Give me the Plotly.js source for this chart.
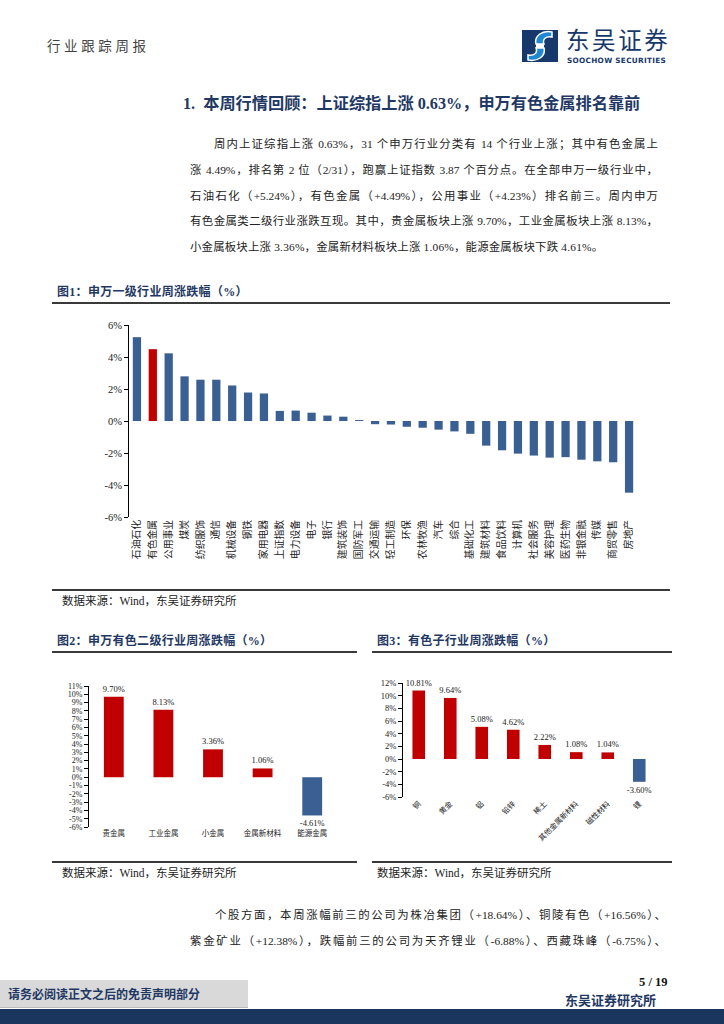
<!DOCTYPE html>
<html><head><meta charset="utf-8">
<script src="https://cdn.plot.ly/plotly-3.0.1.min.js"></script>
<style>
html,body{margin:0;padding:0;background:#fff;}
body{width:724px;height:1024px;position:relative;overflow:hidden;font-family:"Liberation Serif","Noto Sans CJK SC",serif;color:#222;}
.abs{position:absolute;white-space:nowrap;}
.jl{position:absolute;text-align:justify;text-align-last:justify;font-size:11.4px;line-height:16px;color:#222;}
.ft{position:absolute;font-weight:700;color:#1F3864;font-size:12px;line-height:16px;white-space:nowrap;font-family:"Liberation Serif","Noto Sans CJK SC";letter-spacing:0.3px;}
.hl{position:absolute;height:2px;background:#3a3a3a;}
.src{position:absolute;font-size:11.5px;line-height:16px;color:#222;white-space:nowrap;}
</style></head>
<body>
<div class="abs" style="left:47px;top:38px;font-size:13.5px;line-height:18px;letter-spacing:3.6px;color:#444;">行业跟踪周报</div>
<svg class="abs" style="left:522px;top:30px;" width="36" height="32" viewBox="0 0 36 32">
<rect x="0" y="0" width="36" height="32" fill="#16386B"/>
<path d="M30 2 C20 0 12 6 14 14 L22 14 C20 9 24 6 30 7 Z" fill="#1E88D2"/>
<path d="M6 30 C16 32 24 26 22 18 L14 18 C16 23 12 26 6 25 Z" fill="#1E88D2"/>
<path d="M14 14 L22 14 L22 18 L14 18 Z" fill="#ffffff"/>
<path d="M30 7 C24 6 20 9 22 14 L14 14 C12 6 20 0 30 2 Z" fill="none" stroke="#fff" stroke-width="1.5"/>
<path d="M6 25 C12 26 16 23 14 18 L22 18 C24 26 16 32 6 30 Z" fill="none" stroke="#fff" stroke-width="1.5"/>
</svg>
<div class="abs" style="left:566px;top:26px;font-size:23.5px;line-height:26px;color:#16386B;font-family:'Noto Sans CJK SC';letter-spacing:2.6px;">东吴证券</div>
<div class="abs" style="left:567px;top:57px;font-size:7.3px;line-height:8px;color:#16386B;font-family:'DejaVu Sans';font-weight:700;letter-spacing:0.3px;">SOOCHOW SECURITIES</div>

<div class="abs" style="left:183px;top:93px;font-size:16.2px;line-height:22px;font-weight:700;color:#1F3864;font-family:'Liberation Serif','Noto Sans CJK SC';">1.&nbsp;&nbsp;本周行情回顾：上证综指上涨 0.63%，申万有色金属排名靠前</div>

<div class="jl" style="left:214px;top:136px;width:444px;">周内上证综指上涨 0.63%，31 个申万行业分类有 14 个行业上涨；其中有色金属上</div>
<div class="jl" style="left:190px;top:162px;width:468px;">涨 4.49%，排名第 2 位（2/31），跑赢上证指数 3.87 个百分点。在全部申万一级行业中，</div>
<div class="jl" style="left:190px;top:188px;width:468px;">石油石化（+5.24%），有色金属（+4.49%），公用事业（+4.23%）排名前三。周内申万</div>
<div class="jl" style="left:190px;top:213px;width:468px;">有色金属类二级行业涨跌互现。其中，贵金属板块上涨 9.70%，工业金属板块上涨 8.13%，</div>
<div class="abs" style="left:190px;top:239px;font-size:11.4px;line-height:16px;letter-spacing:0.2px;">小金属板块上涨 3.36%，金属新材料板块上涨 1.06%，能源金属板块下跌 4.61%。</div>

<div class="ft" style="left:57px;top:284px;">图1：申万一级行业周涨跌幅（%）</div>
<div class="hl" style="left:52px;top:302px;width:618px;"></div>
<div id="c1" class="abs" style="left:0;top:300px;width:724px;height:290px;"></div>
<div class="hl" style="left:52px;top:589px;width:618px;"></div>
<div class="src" style="left:62px;top:593px;">数据来源：Wind，东吴证券研究所</div>

<div class="ft" style="left:57px;top:633px;">图2：申万有色二级行业周涨跌幅（%）</div>
<div class="hl" style="left:52px;top:651px;width:305px;"></div>
<div id="c2" class="abs" style="left:0;top:660px;width:370px;height:200px;"></div>
<div class="hl" style="left:52px;top:861px;width:305px;"></div>
<div class="src" style="left:62px;top:865px;">数据来源：Wind，东吴证券研究所</div>

<div class="ft" style="left:377px;top:633px;">图3：有色子行业周涨跌幅（%）</div>
<div class="hl" style="left:372px;top:651px;width:300px;"></div>
<div id="c3" class="abs" style="left:370px;top:660px;width:354px;height:200px;"></div>
<div class="hl" style="left:372px;top:861px;width:300px;"></div>
<div class="src" style="left:377px;top:865px;">数据来源：Wind，东吴证券研究所</div>

<div class="jl" style="left:215px;top:907px;width:451px;">个股方面，本周涨幅前三的公司为株冶集团（+18.64%）、铜陵有色（+16.56%）、</div>
<div class="jl" style="left:190px;top:933px;width:476px;">紫金矿业（+12.38%），跌幅前三的公司为天齐锂业（-6.88%）、西藏珠峰（-6.75%）、</div>

<div class="abs" style="left:639px;top:975px;font-size:12.5px;line-height:14px;font-weight:700;color:#111;">5 / 19</div>
<div style="position:absolute;left:0;top:1009px;width:724px;height:15px;background:#1B365E;"></div>
<div style="position:absolute;left:0;top:980px;width:248px;height:27px;background:#D9D9D9;border-bottom:1px solid #bbb;"></div>
<div class="abs" style="left:8px;top:986px;font-size:12px;line-height:16px;font-weight:700;color:#1F3864;font-family:'Noto Sans CJK SC';">请务必阅读正文之后的免责声明部分</div>
<div class="abs" style="left:565px;top:992px;font-size:13px;line-height:15px;font-weight:700;color:#1F3864;font-family:'Noto Sans CJK SC';">东吴证券研究所</div>

<script>
// ---- Figure 1 data ----
const cat1 = ["石油石化","有色金属","公用事业","煤炭","纺织服饰","通信","机械设备","钢铁","家用电器","上证指数","电力设备","电子","银行","建筑装饰","国防军工","交通运输","轻工制造","环保","农林牧渔","汽车","综合","基础化工","建筑材料","食品饮料","计算机","社会服务","美容护理","医药生物","非银金融","传媒","商贸零售","房地产"];
const val1 = [5.24,4.49,4.23,2.79,2.58,2.58,2.22,1.78,1.72,0.63,0.65,0.52,0.34,0.27,0.06,-0.2,-0.22,-0.36,-0.42,-0.54,-0.65,-0.8,-1.54,-1.83,-2.04,-2.16,-2.29,-2.26,-2.42,-2.52,-2.58,-4.48];
const yTicks1 = [-6,-4,-2,0,2,4,6];
// ---- Figure 2 data ----
const cat2 = ["贵金属","工业金属","小金属","金属新材料","能源金属"];
const val2 = [9.70,8.13,3.36,1.06,-4.61];
const yTicks2 = [-6,-5,-4,-3,-2,-1,0,1,2,3,4,5,6,7,8,9,10,11];
// ---- Figure 3 data ----
const cat3 = ["铜","黄金","铝","铅锌","稀土","其他金属新材料","磁性材料","锂"];
const val3 = [10.81,9.64,5.08,4.62,2.22,1.08,1.04,-3.60];
const yTicks3 = [-6,-4,-2,0,2,4,6,8,10,12];

const RED = "#C00000", BLUE = "#3A5F92";
const FONT = "Liberation Serif, Noto Sans CJK SC, serif";

function draw(id, cats, vals, colors, yTicks, o){
  const ymin = yTicks[0], ymax = yTicks[yTicks.length-1];
  const n = cats.length;
  const bounds = [];
  for(let i=0;i<=n;i++) bounds.push(i-0.5);
  const trace = {
    type:"bar", x:cats, y:vals, marker:{color:colors, line:{width:0}},
    hoverinfo:"skip", cliponaxis:false, constraintext:"none"
  };
  if(o.labels){
    trace.text = vals.map(v => v.toFixed(2)+"%");
    trace.textposition = "outside";
    trace.textfont = {family:FONT, size:o.labelSize, color:"#222"};
  }
  const layout = {
    width:o.w, height:o.h, margin:o.m, paper_bgcolor:"rgba(0,0,0,0)", plot_bgcolor:"rgba(0,0,0,0)",
    showlegend:false, bargap:o.gap,
    font:{family:FONT, color:"#222"},
    xaxis:{type:"category", showline:false, ticks:"", showgrid:false, zeroline:false,
      tickangle:o.tickangle, tickfont:{family:FONT, size:o.catSize, color:"#222"}, automargin:false},
    xaxis2:{overlaying:"x", anchor:"free", position:(0-ymin)/(ymax-ymin), range:[-0.5,n-0.5],
      showline:true, linecolor:"#000", linewidth:1, ticks:"outside", ticklen:3, tickcolor:"#000",
      tickmode:"array", tickvals:bounds, showticklabels:false, showgrid:false, zeroline:false, fixedrange:true},
    yaxis:{range:[ymin,ymax], tickmode:"array", tickvals:yTicks, ticktext:yTicks.map(v=>v+"%"),
      showline:true, linecolor:"#000", linewidth:1, ticks:"outside", ticklen:4, tickcolor:"#000",
      showgrid:false, zeroline:false, tickfont:{family:FONT, size:o.ySize, color:"#222"}, automargin:false}
  };
  Plotly.newPlot(id, [trace], layout, {staticPlot:true, displayModeBar:false});
}

draw("c1", cat1, val1, cat1.map(c => c==="有色金属"?RED:BLUE), yTicks1,
  {w:724, h:290, m:{l:129,r:87,t:25,b:73}, gap:0.48, tickangle:-90, catSize:9.8, ySize:10.5, labels:false});
draw("c2", cat2, val2, val2.map(v => v>=0?RED:BLUE), yTicks2,
  {w:370, h:200, m:{l:89,r:33,t:26,b:33}, gap:0.6, tickangle:0, catSize:7.5, ySize:8, labels:true, labelSize:8.5});
draw("c3", cat3, val3, val3.map(v => v>=0?RED:BLUE), yTicks3,
  {w:354, h:200, m:{l:33,r:69,t:23,b:63}, gap:0.6, tickangle:-45, catSize:7.5, ySize:8.5, labels:true, labelSize:8.5});
</script>
</body></html>
